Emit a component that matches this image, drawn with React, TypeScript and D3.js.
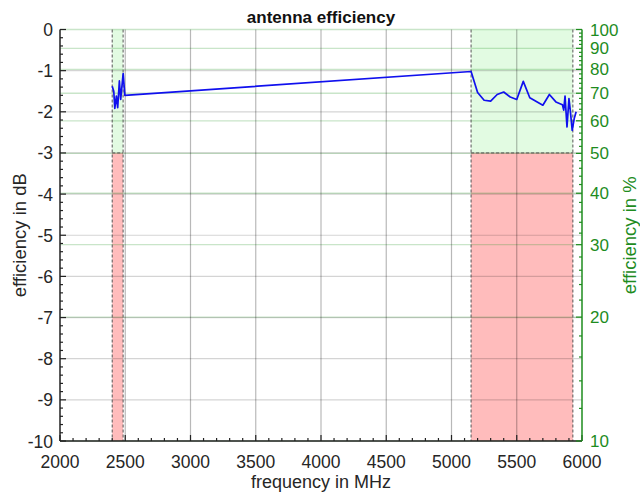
import React from "react";
import * as d3 from "d3";

const freqs = [2400, 2412, 2420, 2432, 2442, 2455, 2465, 2484, 2497,
  5150, 5200, 5250, 5300, 5350, 5400, 5450, 5500, 5550, 5600, 5700, 5750, 5800, 5850, 5860, 5870, 5885, 5900, 5910, 5925, 5940, 5955];
const effDb = [-1.38, -1.50, -1.92, -1.62, -1.90, -1.25, -1.70, -1.07, -1.60,
  -1.02, -1.53, -1.72, -1.74, -1.58, -1.52, -1.64, -1.70, -1.26, -1.66, -1.84, -1.58, -1.76, -1.83, -1.96, -1.62, -2.37, -1.68, -1.96, -2.45, -2.17, -2.00];
const bands = [[2400, 2483.5], [5150, 5930]];
const xTicks = [2000, 2500, 3000, 3500, 4000, 4500, 5000, 5500, 6000];
const dbTicks = [0, -1, -2, -3, -4, -5, -6, -7, -8, -9, -10];
const pctTicks = [10, 20, 30, 40, 50, 60, 70, 80, 90, 100];
const passDb = -3;

export default function App() {
  const W = 640, H = 498;
  const L = 60, R = 582, T = 29.5, B = 441;
  const x = d3.scaleLinear().domain([2000, 6000]).range([L, R]);
  const y = d3.scaleLinear().domain([-10, 0]).range([B, T]);
  const yp = (p: number) => y(10 * Math.log10(p / 100));
  const green = "#1e8c1e";
  const font = "'Liberation Sans', Arial, sans-serif";
  const line = d3.line<number>().x((_, i) => x(freqs[i])).y((d) => y(d));
  const xMinor = d3.range(2000, 6001, 100);
  const dbMinor = d3.range(0, -10.001, -0.2);
  const pctMinor = d3.range(10, 100.1, 2);
  return (
    <svg width={W} height={H} style={{ position: "absolute", left: 0, top: 0 }} fontFamily={font}>
      <rect width={W} height={H} fill="#fff" />
      {bands.map(([a, b], i) => (
        <g key={"f" + i}>
          <rect x={x(a)} y={y(0)} width={x(b) - x(a)} height={y(passDb) - y(0)} fill="#e2fbe2" />
          <rect x={x(a)} y={y(passDb)} width={x(b) - x(a)} height={y(-10) - y(passDb)} fill="#ffbcbc" />
        </g>
      ))}
      {pctTicks.map((p) => (
        <line key={"gp" + p} x1={L} x2={R} y1={yp(p)} y2={yp(p)} stroke="rgba(40,150,40,0.25)" strokeWidth={1.3} />
      ))}
      {dbTicks.slice(1, -1).map((d) => (
        <line key={"gd" + d} x1={L} x2={R} y1={y(d)} y2={y(d)} stroke="rgba(0,0,0,0.17)" strokeWidth={1.2} />
      ))}
      {xTicks.slice(1, -1).map((f) => (
        <line key={"gx" + f} x1={x(f)} x2={x(f)} y1={T} y2={B} stroke="rgba(0,0,0,0.28)" strokeWidth={1.2} />
      ))}
      {bands.map(([a, b], i) => (
        <g key={"d" + i} stroke="#555" strokeWidth={1} strokeDasharray="3,2" fill="none">
          <line x1={x(a)} x2={x(a)} y1={T} y2={B} />
          <line x1={x(b)} x2={x(b)} y1={T} y2={B} />
          <line x1={x(a)} x2={x(b)} y1={y(passDb)} y2={y(passDb)} />
        </g>
      ))}
      <path d={line(effDb) || ""} fill="none" stroke="#1010ee" strokeWidth={1.7} strokeLinejoin="round" />
      {/* bottom axis */}
      <line x1={L} x2={R} y1={B} y2={B} stroke="#222" strokeWidth={1.5} />
      {xMinor.map((f) => {
        const major = f % 500 === 0;
        return <line key={"xt" + f} x1={x(f)} x2={x(f)} y1={B} y2={B - (major ? 6 : 3)} stroke="#222" strokeWidth={1.2} />;
      })}
      {xTicks.map((f) => (
        <text key={"xl" + f} x={x(f)} y={B + 27} fontSize={17.5} fill="#262626" textAnchor="middle">{f}</text>
      ))}
      {/* left axis */}
      <line x1={L} x2={L} y1={T} y2={B} stroke="#222" strokeWidth={1.5} />
      {dbMinor.map((d, i) => {
        const major = i % 5 === 0;
        return <line key={"yt" + i} x1={L} x2={L + (major ? 6 : 3)} y1={y(d)} y2={y(d)} stroke="#222" strokeWidth={1.2} />;
      })}
      {dbTicks.map((d) => (
        <text key={"yl" + d} x={L - 7} y={y(d) + 6.5} fontSize={17.5} fill="#262626" textAnchor="end">{d}</text>
      ))}
      {/* right axis */}
      <line x1={R} x2={R} y1={T} y2={B} stroke={green} strokeWidth={1.5} />
      {pctMinor.map((p) => {
        const major = p % 10 === 0;
        return <line key={"pt" + p} x1={R} x2={R - (major ? 6 : 3)} y1={yp(p)} y2={yp(p)} stroke={green} strokeWidth={1.2} />;
      })}
      {pctTicks.map((p) => (
        <text key={"pl" + p} x={R + 8} y={yp(p) + 6} fontSize={17} fill={green} textAnchor="start">{p}</text>
      ))}
      <text x={(L + R) / 2} y={23} fontSize={17} fontWeight="bold" textAnchor="middle" fill="#111">antenna efficiency</text>
      <text x={(L + R) / 2} y={488} fontSize={18} textAnchor="middle" fill="#262626">frequency in MHz</text>
      <text transform={`translate(26,${(T + B) / 2}) rotate(-90)`} fontSize={18.5} textAnchor="middle" fill="#262626">efficiency in dB</text>
      <text transform={`translate(636,${(T + B) / 2}) rotate(-90)`} fontSize={18.5} textAnchor="middle" fill={green}>efficiency in %</text>
    </svg>
  );
}
